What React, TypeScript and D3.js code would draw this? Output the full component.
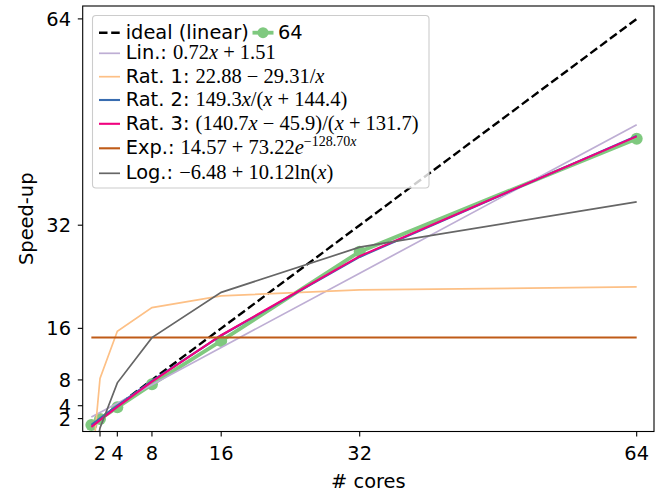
import * as d3 from "d3";
import React, { useRef, useEffect } from "react";

// number of cores and the measured speed-up
const cores = [1, 2, 4, 8, 16, 32, 64];
const measured = [1.0, 1.95, 3.75, 7.32, 14.05, 27.9, 45.4];

// fitted models, evaluated at each core count
const linFit = [2.23, 2.95, 4.39, 7.27, 13.03, 24.55, 47.59];
const rat1Fit = [-6.43, 8.23, 15.55, 19.22, 21.05, 21.96, 22.42];
const rat2Fit = [1.03, 2.04, 4.02, 7.84, 14.89, 27.08, 45.85];
const rat3Fit = [0.71, 1.76, 3.81, 7.73, 14.93, 27.21, 45.78];
const expFit = [14.57, 14.57, 14.57, 14.57, 14.57, 14.57, 14.57];
const logFit = [-6.48, 0.54, 7.55, 14.56, 21.58, 28.59, 35.61];

const tickValues = [2, 4, 8, 16, 32, 64];

const W = 664;
const H = 493;
const SANS = "DejaVu Sans, sans-serif";
const MATH = "Liberation Serif, serif";

function App() {
  const svgRef = useRef<SVGSVGElement>(null);

  useEffect(() => {
    const svg = d3.select(svgRef.current);
    svg.selectAll("*").remove();

    const x = d3.scaleLinear().domain([0, 66]).range([82.7, 654]);
    const y = d3.scaleLinear().domain([0, 66]).range([431.5, 6]);

    // clip lines to the axes area
    svg
      .append("clipPath")
      .attr("id", "plotClip")
      .append("rect")
      .attr("x", 82.7)
      .attr("y", 6)
      .attr("width", 654 - 82.7)
      .attr("height", 431.5 - 6);

    const plot = svg.append("g").attr("clip-path", "url(#plotClip)");

    const line = d3
      .line<number>()
      .x((d, i) => x(cores[i]))
      .y((d) => y(d));

    // ideal linear speed-up
    plot
      .append("path")
      .attr("d", line(cores))
      .attr("fill", "none")
      .attr("stroke", "black")
      .attr("stroke-width", 2.4)
      .attr("stroke-dasharray", "8.5,3.7");

    // measured data
    plot
      .append("path")
      .attr("d", line(measured))
      .attr("fill", "none")
      .attr("stroke", "#7fc97f")
      .attr("stroke-width", 3.8);
    plot
      .selectAll("circle.pt")
      .data(measured)
      .enter()
      .append("circle")
      .attr("cx", (d, i) => x(cores[i]))
      .attr("cy", (d) => y(d))
      .attr("r", 6)
      .attr("fill", "#7fc97f");

    const fits = [
      { vals: linFit, color: "#beaed4", w: 1.7 },
      { vals: rat1Fit, color: "#fdc086", w: 1.7 },
      { vals: rat2Fit, color: "#386cb0", w: 2.1 },
      { vals: rat3Fit, color: "#f0027f", w: 2.1 },
      { vals: expFit, color: "#bf5b17", w: 2.1 },
      { vals: logFit, color: "#666666", w: 1.7 },
    ];
    fits.forEach((f) => {
      plot
        .append("path")
        .attr("d", line(f.vals))
        .attr("fill", "none")
        .attr("stroke", f.color)
        .attr("stroke-width", f.w);
    });

    // spines
    svg
      .append("rect")
      .attr("x", 82.7)
      .attr("y", 6)
      .attr("width", 654 - 82.7)
      .attr("height", 431.5 - 6)
      .attr("fill", "none")
      .attr("stroke", "black")
      .attr("stroke-width", 1.1);

    // x ticks
    const xt = svg.append("g");
    tickValues.forEach((t) => {
      xt.append("line")
        .attr("x1", x(t))
        .attr("x2", x(t))
        .attr("y1", 431.5)
        .attr("y2", 436.4)
        .attr("stroke", "black")
        .attr("stroke-width", 1.1);
      xt.append("text")
        .attr("x", x(t))
        .attr("y", 460)
        .attr("text-anchor", "middle")
        .attr("font-family", SANS)
        .attr("font-size", 19.4)
        .text(t);
    });

    // y ticks
    const yt = svg.append("g");
    tickValues.forEach((t) => {
      yt.append("line")
        .attr("x1", 77.8)
        .attr("x2", 82.7)
        .attr("y1", y(t))
        .attr("y2", y(t))
        .attr("stroke", "black")
        .attr("stroke-width", 1.1);
      yt.append("text")
        .attr("x", 71)
        .attr("y", y(t) + 7)
        .attr("text-anchor", "end")
        .attr("font-family", SANS)
        .attr("font-size", 19.4)
        .text(t);
    });

    // axis labels
    svg
      .append("text")
      .attr("x", (82.7 + 654) / 2)
      .attr("y", 488)
      .attr("text-anchor", "middle")
      .attr("font-family", SANS)
      .attr("font-size", 19.4)
      .text("# cores");
    svg
      .append("text")
      .attr("transform", `translate(33, ${(6 + 431.5) / 2}) rotate(-90)`)
      .attr("text-anchor", "middle")
      .attr("font-family", SANS)
      .attr("font-size", 19.4)
      .text("Speed-up");

    // legend
    const leg = svg.append("g");
    leg
      .append("rect")
      .attr("x", 92.5)
      .attr("y", 15.5)
      .attr("width", 336.5)
      .attr("height", 172.5)
      .attr("rx", 3.5)
      .attr("fill", "white")
      .attr("fill-opacity", 0.8)
      .attr("stroke", "#cccccc")
      .attr("stroke-width", 1.1);

    // first row: ideal + data
    leg
      .append("line")
      .attr("x1", 99)
      .attr("x2", 120)
      .attr("y1", 32.7)
      .attr("y2", 32.7)
      .attr("stroke", "black")
      .attr("stroke-width", 2.4)
      .attr("stroke-dasharray", "8.5,3.7");
    leg
      .append("text")
      .attr("x", 125.7)
      .attr("y", 38.5)
      .attr("font-family", SANS)
      .attr("font-size", 19.4)
      .text("ideal (linear)");
    leg
      .append("line")
      .attr("x1", 252.5)
      .attr("x2", 273.5)
      .attr("y1", 32.7)
      .attr("y2", 32.7)
      .attr("stroke", "#7fc97f")
      .attr("stroke-width", 3.8);
    leg
      .append("circle")
      .attr("cx", 263)
      .attr("cy", 32.7)
      .attr("r", 5.5)
      .attr("fill", "#7fc97f");
    leg
      .append("text")
      .attr("x", 278)
      .attr("y", 38.5)
      .attr("font-family", SANS)
      .attr("font-size", 19.4)
      .text("64");

    // fit rows: [label, math parts]; parts: [text, style]
    type Part = [string, string];
    const rows: { label: string; math: Part[]; hy: number; by: number }[] = [
      { label: "Lin.: ", math: [["0.72", ""], ["x", "i"], [" + 1.51", ""]], hy: 53.3, by: 59.3 },
      { label: "Rat. 1: ", math: [["22.88 − 29.31/", ""], ["x", "i"]], hy: 76.7, by: 82.7 },
      {
        label: "Rat. 2: ",
        math: [["149.3", ""], ["x", "i"], ["/(", ""], ["x", "i"], [" + 144.4)", ""]],
        hy: 100,
        by: 106,
      },
      {
        label: "Rat. 3: ",
        math: [
          ["(140.7", ""],
          ["x", "i"],
          [" − 45.9)/(", ""],
          ["x", "i"],
          [" + 131.7)", ""],
        ],
        hy: 123.8,
        by: 129.5,
      },
      {
        label: "Exp.: ",
        math: [["14.57 + 73.22", ""], ["e", "i"], ["−128.70", "s"], ["x", "si"]],
        hy: 148.3,
        by: 153.5,
      },
      {
        label: "Log.: ",
        math: [["−6.48 + 10.12ln(", ""], ["x", "i"], [")", ""]],
        hy: 173.3,
        by: 178.5,
      },
    ];

    rows.forEach((r, k) => {
      leg
        .append("line")
        .attr("x1", 99)
        .attr("x2", 120)
        .attr("y1", r.hy)
        .attr("y2", r.hy)
        .attr("stroke", fits[k].color)
        .attr("stroke-width", fits[k].w);
      const t = leg
        .append("text")
        .attr("x", 125.7)
        .attr("y", r.by)
        .attr("font-family", SANS)
        .attr("font-size", 19.4)
        .attr("xml:space", "preserve")
        .style("white-space", "pre");
      t.append("tspan").text(r.label);
      let raised = false;
      r.math.forEach(([s, st]) => {
        const sp = t
          .append("tspan")
          .attr("font-family", MATH)
          .attr("font-size", st.includes("s") ? 14 : 20.5)
          .attr("font-style", st.includes("i") ? "italic" : "normal")
          .text(s);
        if (st.includes("s") && !raised) {
          sp.attr("dy", -8);
          raised = true;
        }
      });
    });
  }, []);

  return (
    <svg
      ref={svgRef}
      width={W}
      height={H}
      style={{ position: "absolute", left: 0, top: 0, background: "white" }}
    />
  );
}

export default App;
